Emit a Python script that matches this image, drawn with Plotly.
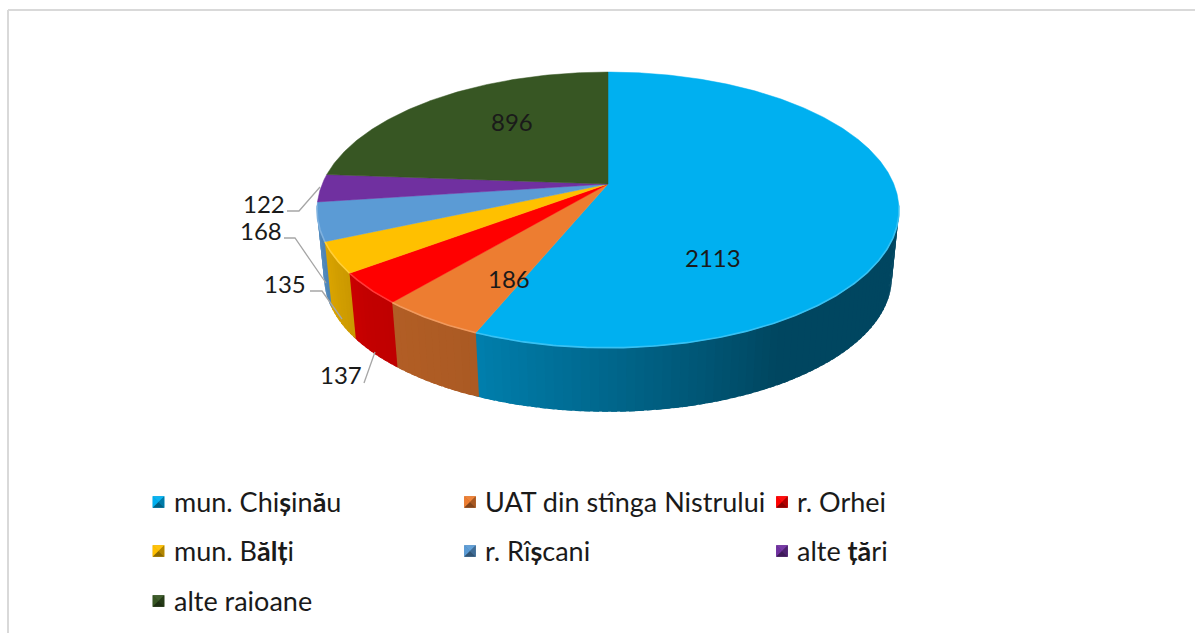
import math
import plotly.graph_objects as go

# --- data -----------------------------------------------------------------
categories = ["mun. Chișinău", "UAT din stînga Nistrului", "r. Orhei", "mun. Bălți",
              "r. Rîșcani", "alte țări", "alte raioane"]
legend_labels = ["mun. Chi<b>ș</b>in<b>ă</b>u", "UAT din stînga Nistrului", "r. Orhei",
                 "mun. B<b>ă</b><b>l</b><b>ț</b>i", "r. Rî<b>ș</b>cani", "alte <b>ț</b><b>ă</b>ri",
                 "alte raioane"]
values = [2113, 186, 137, 135, 168, 122, 896]
colors = ["#00B0F0", "#ED7D31", "#FF0000", "#FFC000", "#5B9BD5", "#7030A0", "#375623"]

# --- layout constants (pixels) --------------------------------------------
W, H = 1195, 633
CX, CY = 608, 184           # pie centre on the top face
A, B, K = 285.8, 133.0, 0.188   # perspective ellipse
SHRINK, DROP = 1.025, 68.0  # bottom face
FONT = "Lato"
TXT = "#1a1a1a"
label_pos = [(713, 257), (509, 278), (341, 374), (285, 283), (261, 230), (264, 203), (512, 121)]
leaders = [None, None,
           [(364, 383), (375, 352)],
           [(310, 291), (322, 291), (342, 319)],
           [(284, 238), (295, 238), (326, 283)],
           [(287, 211), (299, 211), (320, 187)],
           None]
legend_cols = [(158.5, 172), (470, 483), (782, 795)]
legend_rows = [501, 550, 600]


def top(t):
    r = math.radians(t)
    u, v = math.sin(r), math.cos(r)
    w = 1 + K * v
    return CX + A * u / w, CY - B * v / w


def bottom(t):
    r = math.radians(t)
    u, v = math.sin(r), math.cos(r)
    w = (1 + K * v) * SHRINK
    return CX + A * u / w, CY - B * v / w + DROP


def shade(hexc, f):
    c = [int(hexc[i:i + 2], 16) for i in (1, 3, 5)]
    if f <= 1:
        c = [round(x * f) for x in c]
    else:
        c = [round(x + (255 - x) * (f - 1)) for x in c]
    return "rgb(%d,%d,%d)" % tuple(c)


def side_factor(t):
    xs = [90, 150, 202.5, 227, 245, 262, 290]
    ys = [0.40, 0.40, 0.72, 0.76, 0.85, 0.90, 0.85]
    for i in range(len(xs) - 1):
        if xs[i] <= t <= xs[i + 1]:
            return ys[i] + (ys[i + 1] - ys[i]) * (t - xs[i]) / (xs[i + 1] - xs[i])
    return ys[-1]


total = sum(values)
edges = [0.0]
for v in values:
    edges.append(edges[-1] + v / total * 360)

fig = go.Figure()


def poly(pts, color, lw=0.0):
    fig.add_trace(go.Scatter(x=[p[0] for p in pts], y=[p[1] for p in pts], mode="lines",
                             fill="toself", fillcolor=color, line=dict(color=color, width=lw),
                             hoverinfo="skip", showlegend=False))


def arc_points(fn, a0, a1, step=0.25):
    n = max(2, math.ceil((a1 - a0) / step))
    return [fn(a0 + (a1 - a0) * j / n) for j in range(n + 1)]


# side wall: narrow overlapping strips in angle order, each painted over by the next
T0, T1 = 99.0, 261.0
for i, (a0, a1) in enumerate(zip(edges[:-1], edges[1:])):
    lo, hi = max(a0, T0), min(a1, T1)
    if hi <= lo:
        continue
    n = max(1, math.ceil((hi - lo) / 1.5))
    for j in range(n):
        s0 = lo + (hi - lo) * j / n
        s1 = lo + (hi - lo) * (j + 1) / n
        e1 = min(s1 + 1.0, T1)  # overlap hides the seam between strips
        pts = arc_points(top, s0, e1) + arc_points(bottom, s0, e1)[::-1]
        poly(pts + [pts[0]], shade(colors[i], side_factor((s0 + s1) / 2)))

# top face
for i, (a0, a1) in enumerate(zip(edges[:-1], edges[1:])):
    pts = [(CX, CY)] + arc_points(top, a0, a1, 0.5) + [(CX, CY)]
    poly(pts, colors[i], 0.5)

# bright rim along the front edge
for i, (a0, a1) in enumerate(zip(edges[:-1], edges[1:])):
    lo, hi = max(a0, T0), min(a1, T1)
    if hi <= lo:
        continue
    pts = arc_points(top, lo, hi, 0.5)
    fig.add_trace(go.Scatter(x=[p[0] for p in pts], y=[p[1] for p in pts], mode="lines",
                             line=dict(color=shade(colors[i], 1.22), width=1.6),
                             hoverinfo="skip", showlegend=False))

# leader lines
for pts in leaders:
    if pts:
        fig.add_trace(go.Scatter(x=[p[0] for p in pts], y=[p[1] for p in pts], mode="lines",
                                 line=dict(color="#A6A6A6", width=1.3),
                                 hoverinfo="skip", showlegend=False))

annotations = []
for v, (x, y) in zip(values, label_pos):
    annotations.append(dict(x=x, y=y, xref="x", yref="y", text=str(v), showarrow=False,
                            font=dict(family=FONT, size=24, color=TXT)))

# legend: bevelled swatch and text
S = 5.8
for i, name in enumerate(legend_labels):
    sx, tx = legend_cols[i % 3]
    y = legend_rows[i // 3]
    c = colors[i]
    yc = y + 1
    l, r, t, b = sx - S, sx + S, yc - S, yc + S
    m = (sx, yc)
    poly([(l, t), (r, t), (r, b), (l, b), (l, t)], shade(c, 0.85))
    poly([(l, t), (r, t), m, (l, t)], shade(c, 1.05))
    poly([(l, t), (l, b), m, (l, t)], shade(c, 1.0))
    poly([(r, t), (r, b), m, (r, t)], shade(c, 0.7))
    poly([(l, b), (r, b), m, (l, b)], shade(c, 0.55))
    annotations.append(dict(x=tx, y=y, xref="x", yref="y", xanchor="left", text=name,
                            showarrow=False, font=dict(family=FONT, size=27, color=TXT)))

fig.update_layout(
    width=W, height=H, margin=dict(l=0, r=0, t=0, b=0),
    paper_bgcolor="white", plot_bgcolor="white", showlegend=False, hovermode=False,
    xaxis=dict(range=[0, W], visible=False, fixedrange=True),
    yaxis=dict(range=[H, 0], visible=False, fixedrange=True),
    annotations=annotations,
    shapes=[dict(type="line", xref="x", yref="y", x0=8, y0=10, x1=W, y1=10,
                 line=dict(color="#D9D9D9", width=2)),
            dict(type="line", xref="x", yref="y", x0=8, y0=10, x1=8, y1=H,
                 line=dict(color="#D9D9D9", width=2))],
)
fig.write_html("out.html", post_script="document.body.style.margin='0';",
               config={"displayModeBar": False})
